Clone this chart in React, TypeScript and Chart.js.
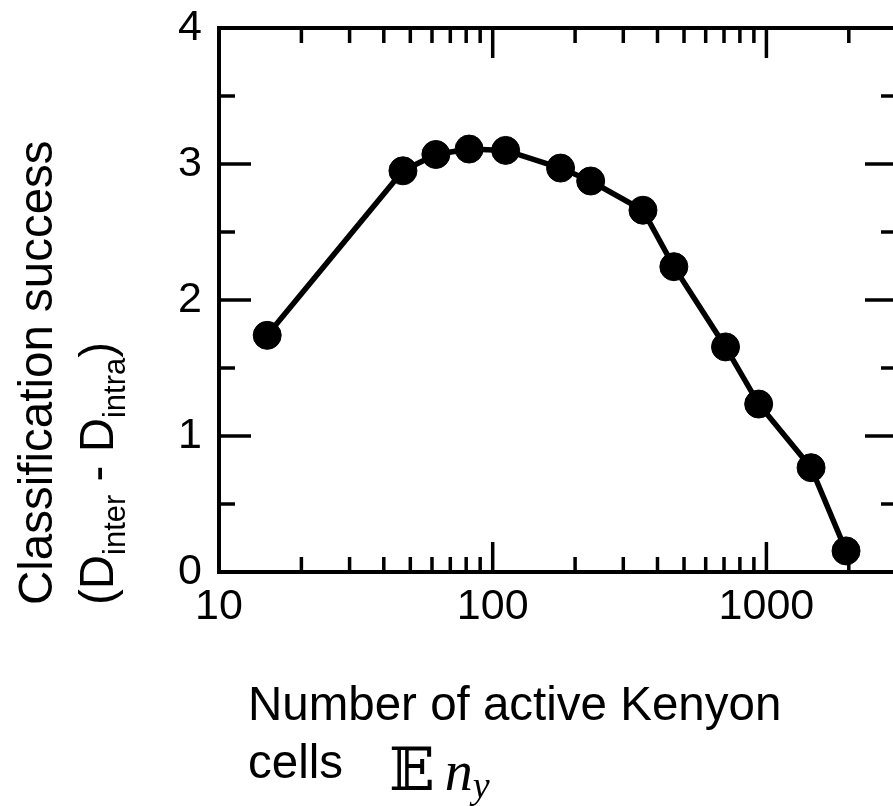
import React, { useEffect, useRef } from 'react';
import { Chart, registerables } from 'chart.js';

Chart.register(...registerables);

// Number of active Kenyon cells (x) and classification success (y)
const activeCells = [15, 47, 62, 82, 111.5, 177, 228, 354, 459, 709, 937, 1456, 1954];
const classificationSuccess = [1.74, 2.95, 3.07, 3.11, 3.1, 2.97, 2.875, 2.66, 2.245, 1.655, 1.235, 0.767, 0.155];

const xMajorTicks = [10, 100, 1000];
const xMinorTicks = [20, 30, 40, 50, 60, 70, 80, 90, 200, 300, 400, 500, 600, 700, 800, 900, 2000];
const yMajorTicks = [0, 1, 2, 3, 4];
const yMinorTicks = [0.5, 1.5, 2.5, 3.5];

const yTitleLine1 = 'Classification success';
const xTitleLine1 = 'Number of active Kenyon';
const xTitleLine2 = 'cells';

const SANS = "'Liberation Sans', Arial, Helvetica, sans-serif";
const SERIF = "'Liberation Serif', 'Times New Roman', serif";

const framePlugin = {
  id: 'frame',
  beforeDatasetsDraw(chart: any) {
    const { ctx, chartArea: a, scales } = chart;
    const xs = scales.x;
    const ys = scales.y;
    const seg = (x1: number, y1: number, x2: number, y2: number) => {
      ctx.beginPath();
      ctx.moveTo(x1, y1);
      ctx.lineTo(x2, y2);
      ctx.stroke();
    };
    ctx.save();
    ctx.strokeStyle = '#000';
    ctx.lineCap = 'butt';
    ctx.lineWidth = 3.5;
    const xt = (v: number, len: number) => {
      const p = xs.getPixelForValue(v);
      seg(p, a.bottom, p, a.bottom - len);
      seg(p, a.top, p, a.top + len);
    };
    const yt = (v: number, len: number) => {
      const p = ys.getPixelForValue(v);
      seg(a.left, p, a.left + len, p);
      seg(a.right, p, a.right - len, p);
    };
    xMajorTicks.forEach((v) => xt(v, 30));
    xMinorTicks.forEach((v) => xt(v, 15));
    yMajorTicks.forEach((v) => yt(v, 32));
    yMinorTicks.forEach((v) => yt(v, 16));
    ctx.lineWidth = 4;
    ctx.strokeRect(a.left, a.top, a.right - a.left, a.bottom - a.top);
    ctx.restore();
  },
  afterDraw(chart: any) {
    const { ctx } = chart;
    ctx.save();
    ctx.fillStyle = '#000';
    ctx.textAlign = 'left';
    ctx.textBaseline = 'alphabetic';

    // Y title (rotated)
    const big = `47.5px ${SANS}`;
    const sub = `31px ${SANS}`;
    ctx.save();
    ctx.translate(52, 605);
    ctx.rotate(-Math.PI / 2);
    ctx.font = big;
    ctx.fillText(yTitleLine1, 0, 0);
    ctx.restore();

    ctx.save();
    ctx.translate(113, 605);
    ctx.rotate(-Math.PI / 2);
    const parts: [string, boolean][] = [['(D', false], ['inter', true], [' - D', false], ['intra', true], [')', false]];
    let cx = 0;
    parts.forEach(([t, isSub]) => {
      ctx.font = isSub ? sub : big;
      ctx.fillText(t, cx, isSub ? 12 : 0);
      cx += ctx.measureText(t).width;
    });
    ctx.restore();

    // X title
    ctx.font = big;
    ctx.fillText(xTitleLine1, 248, 720);
    ctx.fillText(xTitleLine2, 248, 778);
    let mx = 389;
    ctx.font = `60px 'DejaVu Serif', 'DejaVu Sans', serif`;
    ctx.fillText('\u{1D53C}', mx, 790);
    mx += ctx.measureText('\u{1D53C}').width + 10;
    ctx.font = `italic 56px ${SERIF}`;
    ctx.fillText('n', mx, 790);
    mx += ctx.measureText('n').width;
    ctx.font = `italic 38px ${SERIF}`;
    ctx.fillText('y', mx, 798);
    ctx.restore();
  },
};

export default function App() {
  const canvasRef = useRef<HTMLCanvasElement | null>(null);

  useEffect(() => {
    const canvas = canvasRef.current;
    if (!canvas) return;
    const chart = new Chart(canvas, {
      type: 'line',
      data: {
        datasets: [
          {
            data: activeCells.map((x, i) => ({ x, y: classificationSuccess[i] })),
            borderColor: '#000',
            borderWidth: 5.5,
            backgroundColor: '#000',
            pointRadius: 14,
            pointBackgroundColor: '#000',
            pointBorderColor: '#000',
            pointBorderWidth: 1,
            tension: 0,
            clip: false as any,
          },
        ],
      },
      options: {
        animation: false,
        responsive: false,
        devicePixelRatio: 1,
        layout: { padding: { left: 0, right: 23, top: 28, bottom: 0 } },
        plugins: { legend: { display: false }, tooltip: { enabled: false } },
        scales: {
          x: {
            type: 'logarithmic',
            min: 10,
            max: 3000,
            grid: { display: false, drawTicks: false },
            border: { display: false },
            afterBuildTicks: (s: any) => {
              s.ticks = xMajorTicks.map((v) => ({ value: v }));
            },
            afterFit: (s: any) => {
              s.height = 234;
              s.paddingLeft = 0;
              s.paddingRight = 0;
            },
            ticks: {
              padding: 9,
              maxRotation: 0,
              autoSkip: false,
              color: '#000',
              font: { family: SANS, size: 43 },
              callback: (v: any) => String(v),
            },
          },
          y: {
            type: 'linear',
            min: 0,
            max: 4,
            grid: { display: false, drawTicks: false },
            border: { display: false },
            afterBuildTicks: (s: any) => {
              s.ticks = yMajorTicks.map((v) => ({ value: v }));
            },
            afterFit: (s: any) => {
              s.width = 219;
              s.paddingTop = 0;
              s.paddingBottom = 0;
            },
            ticks: {
              padding: 17,
              color: '#000',
              font: { family: SANS, size: 43 },
              callback: (v: any) => String(v),
            },
          },
        },
      },
      plugins: [framePlugin],
    });
    return () => chart.destroy();
  }, []);

  return (
    <div
      style={{
        position: 'fixed',
        left: 0,
        top: 0,
        width: 893,
        height: 806,
        overflow: 'hidden',
        background: '#fff',
      }}
    >
      <canvas ref={canvasRef} width={920} height={806} style={{ display: 'block' }} />
    </div>
  );
}
